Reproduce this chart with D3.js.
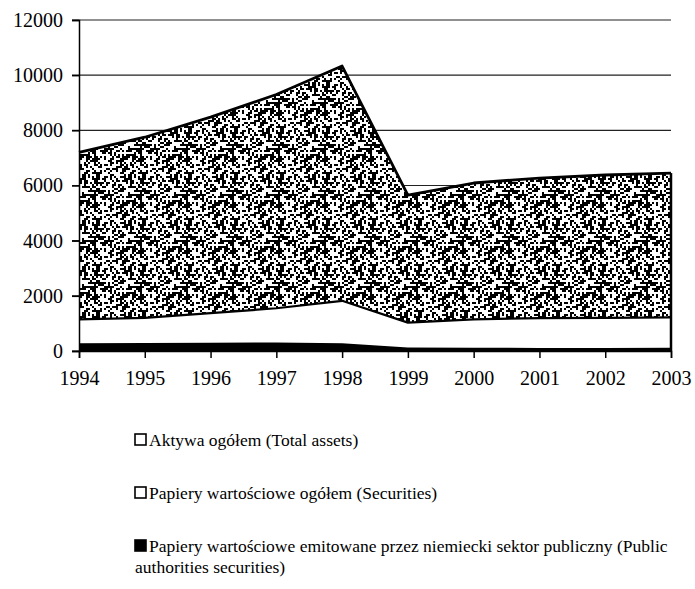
<!DOCTYPE html>
<html><head><meta charset="utf-8">
<script src="https://cdn.jsdelivr.net/npm/d3@7"></script>
</head><body style="margin:0">
<svg id="c" width="695" height="589" style="display:block"></svg>
<script>
const years = [1994,1995,1996,1997,1998,1999,2000,2001,2002,2003];
const totalAssets = [7200,7750,8480,9300,10330,5650,6090,6270,6380,6450];
const securities = [1150,1200,1370,1550,1820,1030,1150,1190,1200,1220];
const publicSec = [280,290,300,310,280,130,120,110,110,120];
const yTicks = [0,2000,4000,6000,8000,10000,12000];
const legendLabels = ["Aktywa ogółem (Total assets)","Papiery wartościowe ogółem (Securities)","Papiery wartościowe emitowane przez niemiecki sektor publiczny (Public","authorities securities)"];
const FONT = "Liberation Serif";

const svg = d3.select("#c");
const x = d3.scaleLinear().domain([1994,2003]).range([79,671]);
const y = d3.scaleLinear().domain([0,12000]).range([351,20]);

// stipple texture tile (deterministic hash, texture only)
const defs = svg.append("defs");
const T = 46, C = 2;
const pat = defs.append("pattern").attr("id","stip").attr("patternUnits","userSpaceOnUse").attr("width",T).attr("height",T);
pat.append("rect").attr("width",T).attr("height",T).attr("fill","#fff");
const cells = [];
for (let i=0;i<T/C;i++) for (let j=0;j<T/C;j++){
  const h = Math.abs(Math.sin(i*12.9898 + j*78.233)*43758.5453) % 1;
  if (h < 0.42) cells.push([i,j]);
}
pat.selectAll("rect.d").data(cells).join("rect").attr("class","d")
  .attr("x",d=>d[0]*C).attr("y",d=>d[1]*C).attr("width",C).attr("height",C).attr("fill","#000");

svg.append("g").selectAll("line").data(yTicks).join("line")
  .attr("x1",72).attr("x2",671).attr("y1",d=>y(d)).attr("y2",d=>y(d))
  .attr("stroke","#222").attr("stroke-width",1.2);

const area = (top,bot)=>d3.area().x((d,i)=>x(years[i])).y0((d,i)=>y(bot?bot[i]:0)).y1((d,i)=>y(top[i]))(top);
svg.append("path").attr("d",area(totalAssets,securities)).attr("fill","url(#stip)");
svg.append("path").attr("d",area(securities,publicSec)).attr("fill","#fff");
svg.append("path").attr("d",area(publicSec)).attr("fill","#000");

const line = d3.line().x((d,i)=>x(years[i])).y(d=>y(d));
svg.append("path").attr("d",line(totalAssets)).attr("fill","none").attr("stroke","#000").attr("stroke-width",2.8).attr("stroke-linejoin","round");
svg.append("path").attr("d",line(securities)).attr("fill","none").attr("stroke","#000").attr("stroke-width",2.2).attr("stroke-linejoin","round");
svg.append("line").attr("x1",x(2003)).attr("x2",x(2003)).attr("y1",y(totalAssets[9])).attr("y2",y(0)).attr("stroke","#000").attr("stroke-width",2.5);

const ya = svg.append("g").attr("transform","translate(79,0)").call(d3.axisLeft(y).tickValues(yTicks).tickSize(7).tickPadding(9).tickFormat(d3.format("d")));
const xa = svg.append("g").attr("transform","translate(0,351)").call(d3.axisBottom(x).tickValues(years).tickSize(7).tickPadding(13).tickFormat(d3.format("d")));
[ya,xa].forEach(g=>{g.attr("font-family",FONT).attr("font-size",20);g.selectAll("path,line").attr("stroke","#000").attr("stroke-width",1.5);g.selectAll("text").attr("fill","#000");});

const lg = svg.append("g").attr("font-family",FONT).attr("font-size",17.5);
const rows = [{t:legendLabels[0],y:440,fill:"#fff"},{t:legendLabels[1],y:493,fill:"#fff"},{t:legendLabels[2],y:546,fill:"#000"}];
rows.forEach(r=>{
  lg.append("rect").attr("x",135).attr("y",r.y-6).attr("width",11).attr("height",11).attr("fill",r.fill).attr("stroke","#000").attr("stroke-width",1.6);
  lg.append("text").attr("x",149).attr("y",r.y).attr("dy","0.35em").text(r.t);
});
lg.append("text").attr("x",135).attr("y",567).attr("dy","0.35em").text(legendLabels[3]);
</script></body></html>
